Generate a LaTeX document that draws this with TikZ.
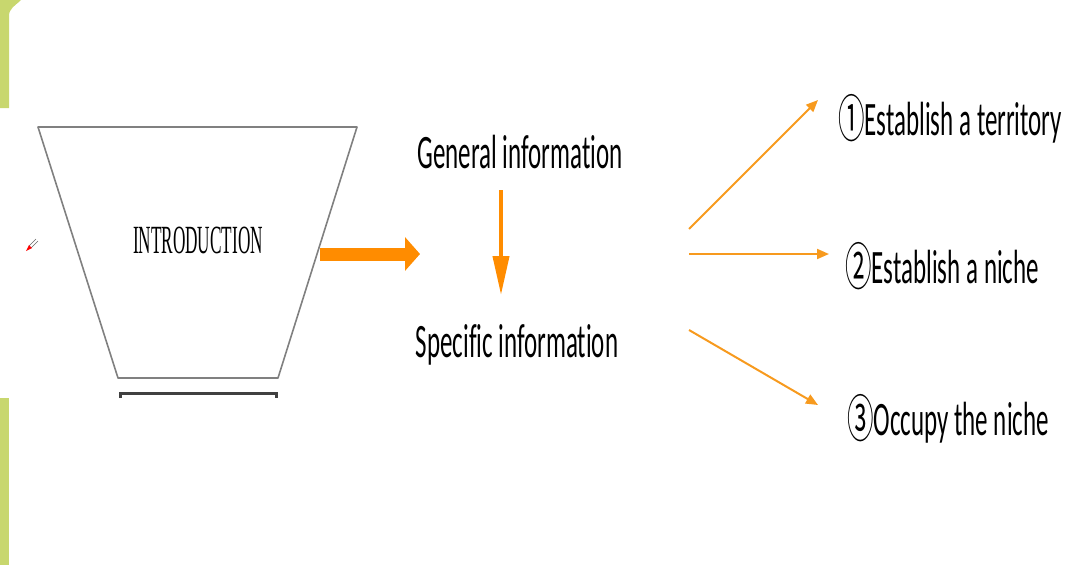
\documentclass[tikz,border=0pt]{standalone}
\usepackage{fontspec}
\setmainfont{Carlito}[Ligatures=CommonOff]
\newfontfamily\circfont{Noto Sans CJK JP}
\newfontfamily\introfont{Liberation Serif}
\usetikzlibrary{arrows.meta,positioning,calc}

\definecolor{slidegreen}{RGB}{200,215,110}
\definecolor{boldorange}{RGB}{255,140,0}
\definecolor{lineorange}{RGB}{247,154,30}
\newcommand{\squeeze}[1]{\scalebox{0.52}[1]{#1}}
\newcommand{\circnum}[1]{\raisebox{-2pt}{\circfont\fontsize{51}{53}\selectfont #1}}

\begin{document}
\begin{tikzpicture}[x=1pt,y=-1pt,
  txt/.style={inner sep=0pt, font=\fontsize{48}{50}\selectfont, anchor=base},
  item/.style={txt, anchor=base west},
  thinarrow/.style={lineorange, line width=2pt, -{Triangle[length=12pt,width=10pt]}},
  funnel/.style={draw=black!50, line width=1.6pt, line join=round}]
\useasboundingbox (0,0) rectangle (1092,565);

% slide frame
\fill[slidegreen] (0,0) -- (21,0) to[out=225,in=90] (9,16) -- (9,108) -- (0,108) -- cycle;
\fill[slidegreen] (0,398) rectangle (9,565);

% funnel
\coordinate (tl) at (38,127);
\coordinate (tr) at (357,127);
\coordinate (br) at (278,378);
\coordinate (bl) at (118,378);
\draw[funnel] (tl) -- (tr) -- (br) -- (bl) -- cycle;
\draw[black!75, line width=3pt] (120,398) -- (120,393) -- (276,393) -- (276,398);
\node[inner sep=0pt, anchor=base, font=\introfont\fontsize{40}{42}\selectfont] (intro) at (198,253) {\scalebox{0.43}[1]{INTRODUCTION}};

% pen mark
\draw[black!60, line width=0.6pt] (29,246) -- (36,239) (31,248) -- (38,241);
\fill[red] (26,251) -- (29,245) -- (32,248) -- cycle;

% middle column
\coordinate (introR) at (320,254);
\coordinate (genin) at (420,254);
\draw[boldorange, line width=13pt, -{Triangle[length=15pt,width=33pt]}] (introR) -- (genin);

\node[txt] (general) at (520,168) {\squeeze{General information}};
\node[txt] (specific) at (517,357) {\squeeze{Specific information}};
\coordinate (gtop) at (501,190);
\coordinate (sbot) at (501,295);
\draw[boldorange, line width=4pt, -{Triangle[length=39pt,width=16pt]}] (gtop) -- (sbot);

% three moves
\node[item] (territory) at (838,135) {\squeeze{\circnum{①}Establish a territory}};
\node[item] (niche) at (845,283) {\squeeze{\circnum{②}Establish a niche}};
\node[item] (occupy) at (847,435) {\squeeze{\circnum{③}Occupy the niche}};

\coordinate (fork1) at (689,229);
\coordinate (fork2) at (689,254);
\coordinate (fork3) at (689,330);
\coordinate (tip1) at (818,100);
\coordinate (tip2) at (829,254);
\coordinate (tip3) at (818,405);
\draw[thinarrow] (fork1) -- (tip1);
\draw[thinarrow] (fork2) -- (tip2);
\draw[thinarrow] (fork3) -- (tip3);
\end{tikzpicture}
\end{document}
